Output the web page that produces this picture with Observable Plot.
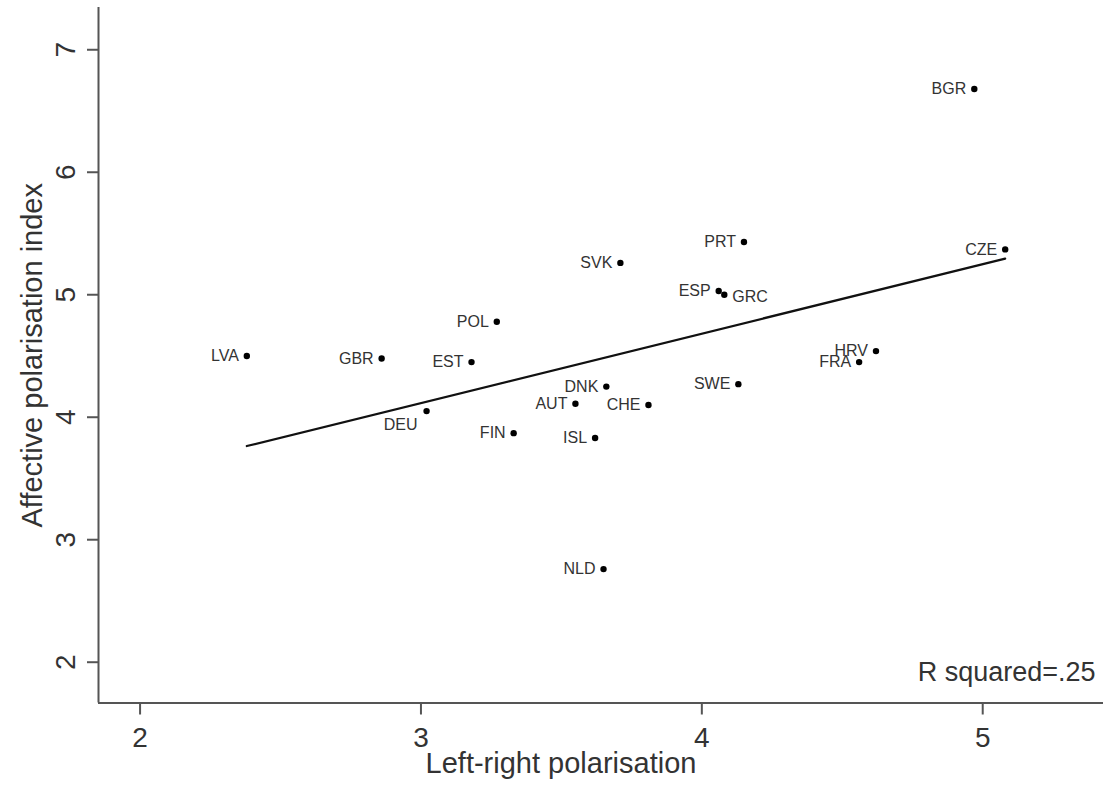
<!DOCTYPE html>
<html><head><meta charset="utf-8">
<script src="https://cdn.jsdelivr.net/npm/d3@7"></script>
<script src="https://cdn.jsdelivr.net/npm/@observablehq/plot@0.6"></script>
<style>body{margin:0;background:#fff} svg{display:block}</style>
</head><body><div id="chart"></div>
<script>
const countries = ["BGR","CZE","PRT","SVK","ESP","GRC","POL","LVA","GBR","EST","HRV","FRA","SWE","DNK","AUT","CHE","DEU","FIN","ISL","NLD"];
const leftRight = [4.97,5.08,4.15,3.71,4.06,4.08,3.27,2.38,2.86,3.18,4.62,4.56,4.13,3.66,3.55,3.81,3.02,3.33,3.62,3.65];
const affective = [6.68,5.37,5.43,5.26,5.03,5.00,4.78,4.50,4.48,4.45,4.54,4.45,4.27,4.25,4.11,4.10,4.05,3.87,3.83,2.76];
const xTicks = [2,3,4,5];
const yTicks = [2,3,4,5,6,7];
const xDomain = [1.852, 5.43];
const yDomain = [1.667, 7.345];
const xTitle = "Left-right polarisation";
const yTitle = "Affective polarisation index";
const rSquared = "R squared=.25";

const data = countries.map((c, i) => ({country: c, lr: leftRight[i], ap: affective[i]}));
const rightLabels = ["GRC"];
const belowLabels = ["DEU"];
const font = "'Liberation Sans', Arial, Helvetica, sans-serif";
const axisColor = "#555";
const textColor = "#333";

const plot = Plot.plot({
  width: 1103, height: 794,
  marginLeft: 98, marginRight: 0, marginTop: 7, marginBottom: 91.5,
  style: {fontFamily: font, background: "#fff", color: textColor},
  x: {domain: xDomain},
  y: {domain: yDomain},
  marks: [
    Plot.ruleY([yDomain[0]], {stroke: axisColor, strokeWidth: 2}),
    Plot.ruleX([xDomain[0]], {stroke: axisColor, strokeWidth: 2}),
    Plot.axisX({ticks: xTicks, tickSize: 12, tickPadding: 12, fontSize: 28, label: null, stroke: axisColor, strokeWidth: 2, fill: textColor, tickFormat: d => String(d)}),
    Plot.axisY({ticks: yTicks, tickSize: 11, tickPadding: 13, tickRotate: -90, fontSize: 28, label: null, stroke: axisColor, strokeWidth: 2, fill: textColor, tickFormat: d => String(d)}),
    Plot.linearRegressionY(data, {x: "lr", y: "ap", ci: 0, stroke: "#111", strokeWidth: 2.2}),
    Plot.dot(data, {x: "lr", y: "ap", r: 3.2, fill: "#000", stroke: null}),
    Plot.text(data.filter(d => !rightLabels.includes(d.country) && !belowLabels.includes(d.country)),
      {x: "lr", y: "ap", text: "country", textAnchor: "end", dx: -8, fontSize: 16, fill: textColor}),
    Plot.text(data.filter(d => rightLabels.includes(d.country)),
      {x: "lr", y: "ap", text: "country", textAnchor: "start", dx: 8, dy: 2, fontSize: 16, fill: textColor}),
    Plot.text(data.filter(d => belowLabels.includes(d.country)),
      {x: "lr", y: "ap", text: "country", textAnchor: "end", dx: -9, dy: 14, fontSize: 16, fill: textColor}),
    Plot.text([xTitle], {frameAnchor: "bottom", textAnchor: "middle", dx: -40, dy: 70, fontSize: 29, fill: textColor}),
    Plot.text([yTitle], {frameAnchor: "left", textAnchor: "middle", rotate: -90, dx: -66, fontSize: 29, fill: textColor}),
    Plot.text([rSquared], {frameAnchor: "bottom-right", textAnchor: "end", dx: -8, dy: -22, fontSize: 27, fill: textColor})
  ]
});
document.getElementById("chart").appendChild(plot);
</script>
</body></html>
